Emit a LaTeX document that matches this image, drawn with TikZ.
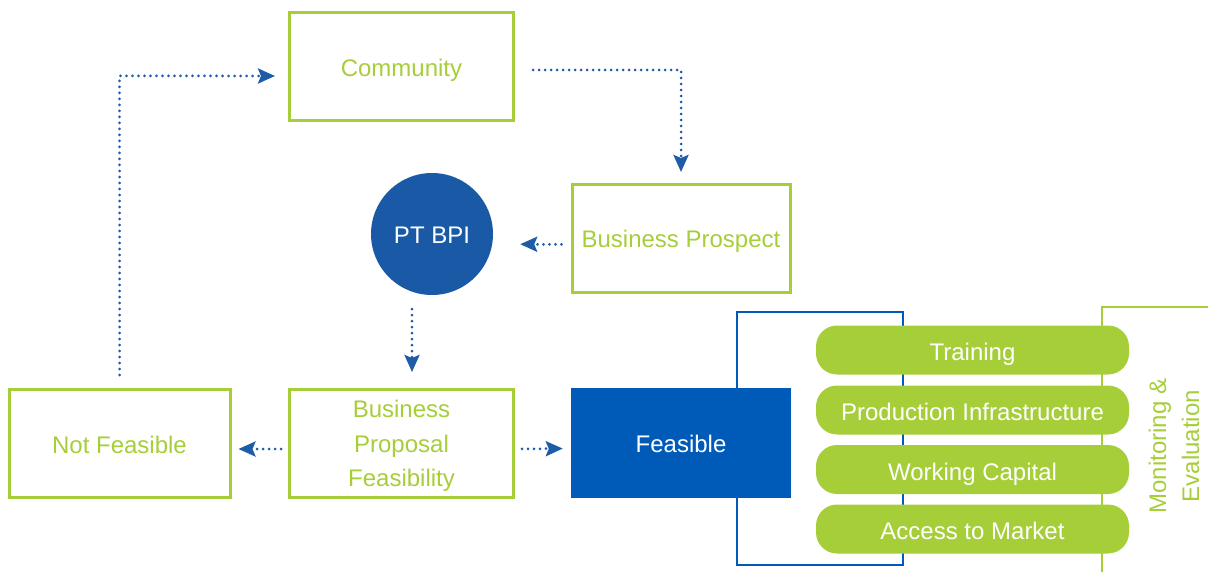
\documentclass[tikz,border=0pt]{standalone}
\usepackage{fontspec}
\setmainfont{Liberation Sans}
\usetikzlibrary{arrows.meta,calc}
\definecolor{lime}{HTML}{A6CE39}
\definecolor{arrblue}{HTML}{1F5CA6}
\definecolor{circblue}{HTML}{1959A6}
\definecolor{boxblue}{HTML}{005BB8}
\tikzset{
  gbox/.style={draw=lime,line width=3pt,minimum width=224pt,minimum height=108pt,text=lime,align=center,font=\fontsize{24}{34.5}\selectfont,inner sep=0pt},
  oneline/.style={text height=19pt,text depth=0pt},
  pill/.style={fill=lime,rounded corners=21pt,minimum width=313pt,minimum height=49pt,text=white,font=\fontsize{24}{27}\selectfont,inner sep=0pt,text height=21pt,text depth=0pt},
  arr/.style={draw=arrblue,line width=3pt,line cap=round,dash pattern=on 0pt off 6pt,-{Stealth[length=17pt,width=15pt,inset=3pt,line cap=butt]}},
}
\begin{document}
\begin{tikzpicture}[x=1pt,y=-1pt]
\useasboundingbox (0,0) rectangle (1208,572);
% brackets
\draw[boxblue,line width=2.5pt] (737,312) rectangle (903,565);
\draw[lime,line width=2.5pt] (1208,307) -- (1102,307) -- (1102,572);
% boxes
\node[gbox,oneline] (comm) at (401.5,67) {Community};
\node[gbox,oneline,minimum width=218pt] (bp) at (681,238.5) {Business Prospect};
\node[circle,fill=circblue,minimum size=122pt,text=white,font=\fontsize{24}{27}\selectfont,inner sep=0pt,oneline] (bpi) at (432,234) {PT BPI};
\node[gbox,oneline,minimum width=221pt] (nf) at (119.5,443.5) {Not Feasible};
\node[gbox,text depth=0pt] (bpf) at (401.5,443.5) {Business\\Proposal\\Feasibility};
\node[fill=boxblue,minimum width=220pt,minimum height=110pt,text=white,font=\fontsize{24}{27}\selectfont,inner sep=0pt,oneline] (feas) at (681,443) {Feasible};
% pills
\node[pill] (p1) at (972.5,350) {Training};
\node[pill] (p2) at (972.5,410) {Production Infrastructure};
\node[pill] (p3) at (972.5,469.5) {Working Capital};
\node[pill] (p4) at (972.5,529) {Access to Market};
\node[rotate=90,text=lime,align=center,font=\fontsize{24}{33}\selectfont,inner sep=0pt] (me) at (1174,446) {Monitoring \&\\Evaluation};
% arrows
\draw[arr,shorten <=13pt,shorten >=13pt] (nf.north) |- ([yshift=-9pt]comm.west);
\draw[arr,shorten <=18pt,shorten >=11pt] ([yshift=-3pt]comm.east) -| (bp.north);
\draw[arr,shorten <=9pt,shorten >=27pt] ([yshift=-6pt]bp.west) -- ([yshift=-10pt]bpi.east);
\draw[arr,shorten <=14pt,shorten >=16pt] ([xshift=-20pt]bpi.south) -- ([xshift=-20pt]bpi.south |- bpf.north);
\draw[arr,shorten <=7pt,shorten >=7pt] ([yshift=-5.5pt]bpf.west) -- ([yshift=-5.5pt]nf.east);
\draw[arr,shorten <=7pt,shorten >=8pt] ([yshift=-5.5pt]bpf.east) -- ([yshift=-5.5pt]feas.west);
\end{tikzpicture}
\end{document}
